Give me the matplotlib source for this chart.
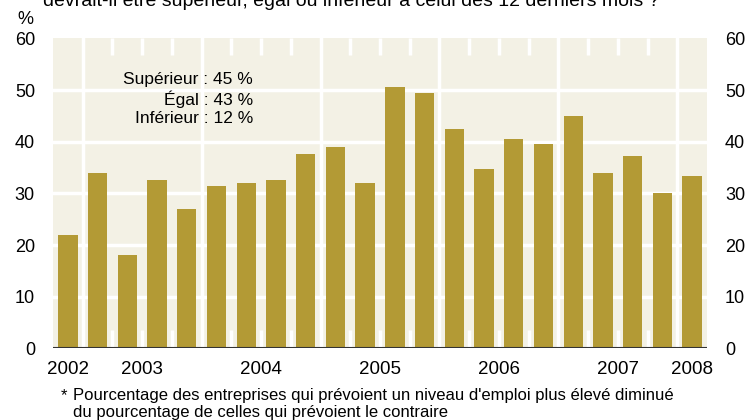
import matplotlib
matplotlib.use("Agg")
import matplotlib.pyplot as plt

# --- DATA (quarterly, 2002 Q4 -> 2008 Q1) ---
values = [21.9, 33.9, 18.1, 32.6, 27.0, 31.4, 32.0, 32.6, 37.6, 39.0, 32.0,
          50.5, 49.5, 42.5, 34.7, 40.6, 39.6, 45.0, 34.0, 37.2, 30.0, 33.3]
year_labels = ["2002", "2003", "2004", "2005", "2006", "2007", "2008"]
year_pos = [0, 2.5, 6.5, 10.5, 14.5, 18.5, 21]
year_breaks = [0.5, 4.5, 8.5, 12.5, 16.5, 20.5]
y_ticks = [0, 10, 20, 30, 40, 50, 60]
legend_lines = ["Supérieur : 45 %", "Égal : 43 %", "Inférieur : 12 %"]

BAR = "#B39A35"
BG = "#F3F1E5"

plt.rcParams["font.family"] = ["Liberation Sans", "DejaVu Sans"]

fig = plt.figure(figsize=(7.49, 4.20), dpi=100)
ax = fig.add_axes([53 / 749, 71.6 / 420, 654 / 749, 310 / 420])
ax.set_facecolor(BG)
for s in ax.spines.values():
    s.set_visible(False)

x = list(range(len(values)))
ax.set_xlim(-0.5, len(values) - 0.5)
ax.set_ylim(0, 60)

# horizontal grid
for v in y_ticks[1:-1]:
    ax.axhline(v, color="white", lw=2.5, zorder=1)
# vertical lines: full at year breaks, short ticks elsewhere
for i in range(len(values) - 1):
    b = i + 0.5
    if b in year_breaks:
        ax.axvline(b, color="white", lw=2.5, zorder=1)
    else:
        ax.plot([b, b], [56.7, 60], color="white", lw=2.5, zorder=1,
                solid_capstyle="butt")
        ax.plot([b, b], [0, 3.5], color="white", lw=2.5, zorder=1,
                solid_capstyle="butt")

ax.bar(x, values, width=0.65, color=BAR, zorder=2)
ax.axhline(0, color="#333333", lw=1.5, zorder=3)

ax.set_yticks(y_ticks)
ax.tick_params(axis="y", length=0, pad=13, labelsize=13,
               labelleft=True, labelright=True)
ax.set_xticks(year_pos)
ax.set_xticklabels(year_labels)
ax.tick_params(axis="x", length=0, pad=9, labelsize=13.5)

for k, line in enumerate(legend_lines):
    ax.text(6.22, 52.1 - k * 3.8, line, ha="right", va="center",
            fontsize=12.5, zorder=4)

fig.text(25 / 749, 1 - 19 / 420, "%", ha="center", va="center", fontsize=13)
fig.text(43 / 749, 1 - 6 / 420,
         "devrait-il être supérieur, égal ou inférieur à celui des 12 derniers mois ?",
         ha="left", va="baseline", fontsize=14)
fig.text(61 / 749, 1 - 400 / 420, "*", ha="left", va="baseline", fontsize=12)
fig.text(73 / 749, 1 - 400 / 420,
         "Pourcentage des entreprises qui prévoient un niveau d'emploi plus élevé diminué",
         ha="left", va="baseline", fontsize=12)
fig.text(73 / 749, 1 - 416.5 / 420,
         "du pourcentage de celles qui prévoient le contraire",
         ha="left", va="baseline", fontsize=12)

fig.savefig("out.png", dpi=100, facecolor="white")
